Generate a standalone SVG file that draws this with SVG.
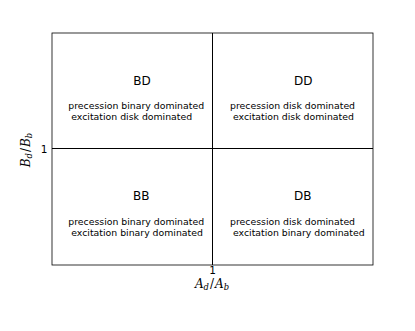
<svg xmlns="http://www.w3.org/2000/svg" width="415" height="331" viewBox="0 0 415 331">
  <style>
    .title { font-family: "DejaVu Sans", sans-serif; font-size: 12px; fill: #000; text-anchor: middle; }
    .desc { font-family: "DejaVu Sans", sans-serif; font-size: 9.33px; fill: #000; }
    .tick { font-family: "DejaVu Sans", sans-serif; font-size: 10.5px; fill: #000; }
    .math { font-family: "DejaVu Serif", serif; font-size: 12px; font-style: italic; fill: #000; }
    .sub { font-size: 8.4px; }
    .frame { fill: none; stroke: #000; stroke-width: 0.8; }
    .divider { stroke: #000; stroke-width: 1; fill: none; }
  </style>
  <rect width="415" height="331" fill="#fff"/>

  <g id="grid">
    <rect class="frame" x="52" y="33" width="321" height="232"/>
    <line class="divider" x1="52" y1="148.5" x2="373" y2="148.5"/>
    <line class="divider" x1="212.5" y1="33" x2="212.5" y2="265"/>
  </g>

  <g id="node-BD">
    <text class="title" x="142" y="85">BD</text>
    <text class="desc" x="68.3" y="108.5">precession binary dominated</text>
    <text class="desc" x="71.3" y="119.7">excitation disk dominated</text>
  </g>

  <g id="node-DD">
    <text class="title" x="303.3" y="85">DD</text>
    <text class="desc" x="230" y="108.5">precession disk dominated</text>
    <text class="desc" x="233" y="119.7">excitation disk dominated</text>
  </g>

  <g id="node-BB">
    <text class="title" x="141.3" y="200.3">BB</text>
    <text class="desc" x="68.3" y="224.7">precession binary dominated</text>
    <text class="desc" x="71.3" y="235.9">excitation binary dominated</text>
  </g>

  <g id="node-DB">
    <text class="title" x="302.7" y="200.3">DB</text>
    <text class="desc" x="230" y="224.7">precession disk dominated</text>
    <text class="desc" x="233" y="235.9">excitation binary dominated</text>
  </g>

  <g id="axes">
    <text class="tick" x="47.5" y="153.3" text-anchor="end">1</text>
    <text class="tick" x="212.5" y="274" text-anchor="middle">1</text>
    <text class="math" x="212" y="288" text-anchor="middle">A<tspan class="sub" dy="2.2">d</tspan><tspan dy="-2.2" dx="1" font-style="normal">/</tspan><tspan dx="1">A</tspan><tspan class="sub" dy="2.2">b</tspan></text>
    <text class="math" transform="translate(29.5,150) rotate(-90)" x="0" y="0" text-anchor="middle">B<tspan class="sub" dy="2.2">d</tspan><tspan dy="-2.2" dx="1" font-style="normal">/</tspan><tspan dx="1">B</tspan><tspan class="sub" dy="2.2">b</tspan></text>
  </g>

  <g id="connectors"></g>
</svg>
